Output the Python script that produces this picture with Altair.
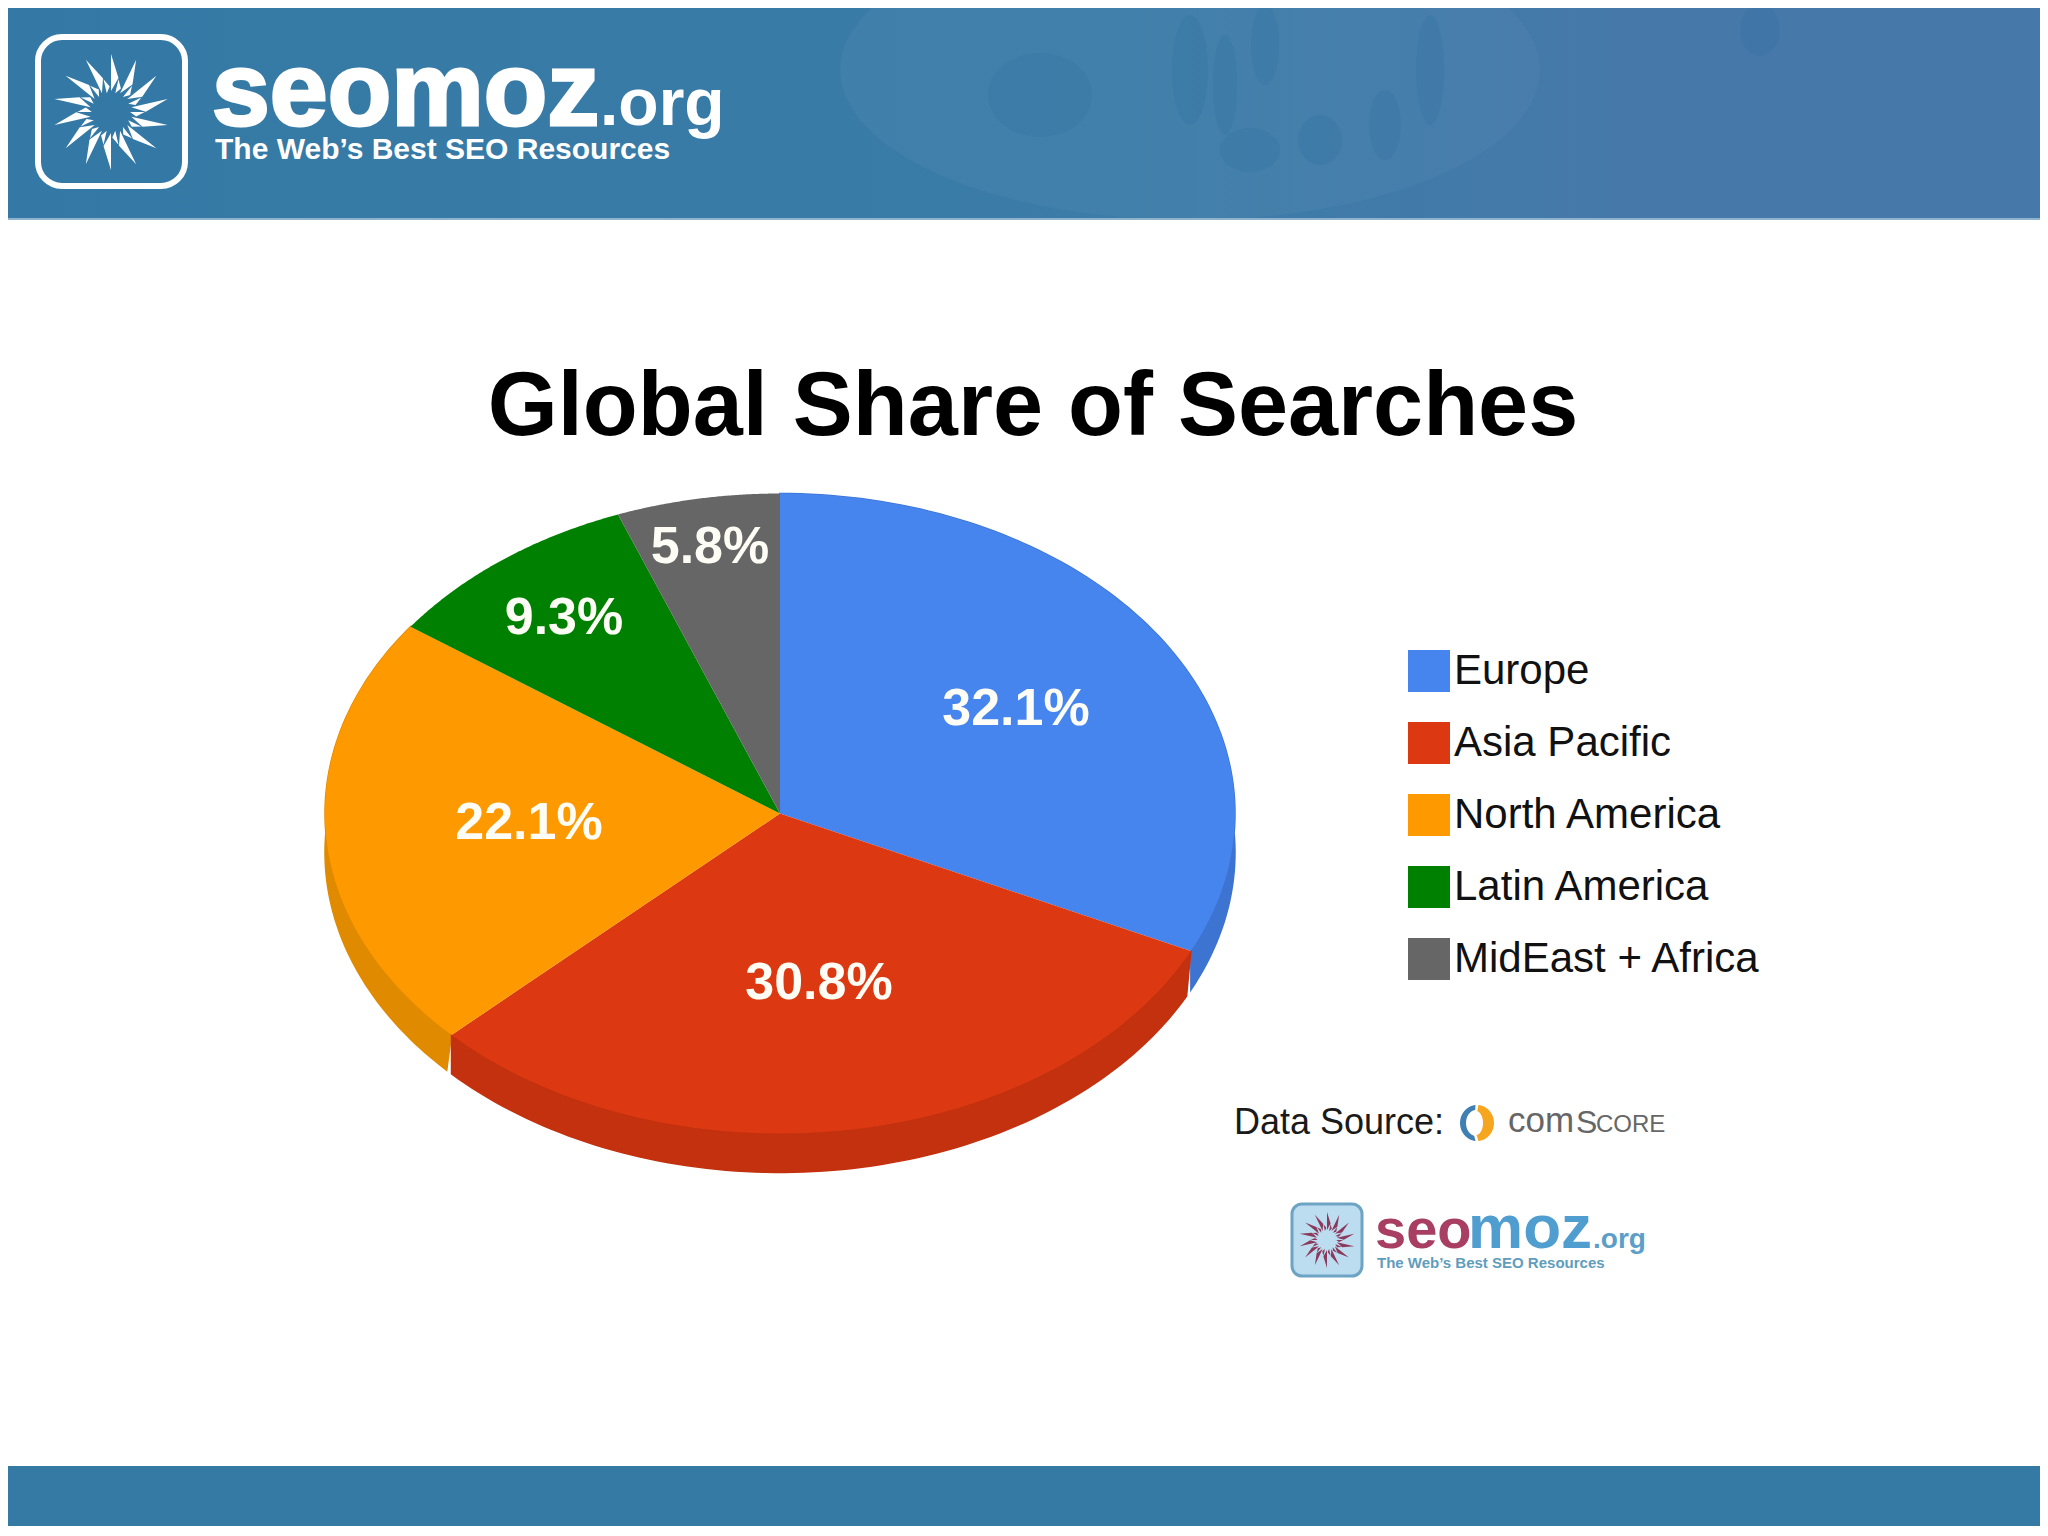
import math
import altair as alt

# ---- data ----
regions = ["Europe", "Asia Pacific", "North America", "Latin America", "MidEast + Africa"]
shares = [32.1, 30.8, 22.1, 9.3, 5.8]
share_labels = ["32.1%", "30.8%", "22.1%", "9.3%", "5.8%"]
face_colors = ["#4684ee", "#dc3912", "#ff9900", "#008000", "#666666"]
side_colors = ["#3d74d2", "#c3310f", "#e08a00", "#007000", "#5a5a5a"]
label_xy = [(1016, 707), (819, 981), (529, 821), (564, 616), (710, 545)]

CX, CY, RX, RY, DEPTH = 780, 813.5, 455, 320, 39
OFF = 8  # page margin


def feature(coords_list, **props):
    rings = [[[[float(x), float(y)] for x, y in ring]] for ring in coords_list]
    return {"type": "Feature", "properties": props,
            "geometry": {"type": "MultiPolygon", "coordinates": rings}}


def arc_pts(a0, a1, cx=CX, cy=CY, rx=RX, ry=RY, n=90):
    return [(cx + rx * math.sin(math.radians(a0 + (a1 - a0) * i / n)),
             cy - ry * math.cos(math.radians(a0 + (a1 - a0) * i / n))) for i in range(n + 1)]


def ellipse(cx, cy, rx, ry, top=-1e9, bottom=1e9):
    return [(x, min(max(y, top), bottom)) for x, y in arc_pts(0, 360, cx, cy, rx, ry, 72)]


def star(cx, cy, r, n=14):
    out = []
    pol = lambda rr, a: (cx + rr * math.sin(a), cy - rr * math.cos(a))
    d = math.radians(12.4)
    for k in range(n):
        t = 2 * math.pi * k / n
        out.append([pol(r, t), pol(r * 0.6, t + d), pol(r * 0.36, t), pol(r * 0.6, t - d)])
        m = t + math.pi / n
        out.append([pol(r * 0.58, m), pol(r * 0.44, m + d * 0.8), pol(r * 0.33, m), pol(r * 0.44, m - d * 0.8)])
    return out


projection = alt.Projection(type="identity", scale=1, translate=[-OFF, -OFF])


def shape(features, **mark):
    mark.setdefault("strokeWidth", 0)
    return alt.Chart(alt.Data(values=features)).mark_geoshape(**mark).project(**projection.to_dict())


def rect(x0, x1, y0, y1, **mark):
    return alt.Chart(alt.Data(values=[{}])).mark_rect(**mark).encode(
        x=alt.value(x0 - OFF), x2=alt.value(x1 - OFF), y=alt.value(y0 - OFF), y2=alt.value(y1 - OFF))


def text(s, x, y, size, color, font="Liberation Sans", weight="normal", align="left", **mark):
    return alt.Chart(alt.Data(values=[{}])).mark_text(
        text=s, font=font, fontSize=size, fontWeight=weight, color=color, align=align,
        baseline="alphabetic", **mark).encode(x=alt.value(x - OFF), y=alt.value(y - OFF))


layers = []

# header and footer bands
layers.append(rect(0, 2048, 0, 220, color=alt.LinearGradient(
    gradient="linear", x1=0, x2=1, y1=0, y2=0,
    stops=[alt.GradientStop(offset=0, color="#3479a5"),
           alt.GradientStop(offset=0.55, color="#3b7ca8"),
           alt.GradientStop(offset=0.8, color="#4679aa"),
           alt.GradientStop(offset=1, color="#4679aa")])))
layers.append(rect(0, 2048, 218, 220, color="#8fb3cc"))
layers.append(rect(0, 2048, 1466, 1536, color="#3579a5"))

# faint map texture of the header
layers.append(shape([feature([ellipse(1190, 70, 350, 150, 0, 218)])], fill="#ffffff", opacity=0.03))
layers.append(shape([feature([ellipse(1040, 95, 52, 42, 0, 218),
                              ellipse(1190, 70, 18, 55, 0, 218),
                              ellipse(1225, 85, 12, 50, 0, 218),
                              ellipse(1265, 45, 14, 40, 0, 218),
                              ellipse(1250, 150, 30, 22, 0, 218),
                              ellipse(1320, 140, 22, 25, 0, 218),
                              ellipse(1385, 125, 16, 35, 0, 218),
                              ellipse(1430, 70, 14, 55, 0, 218),
                              ellipse(1760, 30, 20, 26, 0, 218)])], fill="#2f6f9f", opacity=0.22))

# header logo
layers.append(rect(38, 185, 37, 186, fill="#3479a5", stroke="white", strokeWidth=6, cornerRadius=24))
layers.append(shape([feature(star(111, 112, 58))], fill="white"))
layers.append(text("seomoz", 212, 125, 104, "white", weight="bold", stroke="white", strokeWidth=3))
layers.append(text(".org", 600, 125, 66, "white", weight="bold"))
layers.append(text("The Web\u2019s Best SEO Resources", 215, 159, 30, "white", weight="bold"))

# title
layers.append(text("Global Share of Searches", 1033, 435, 90, "black", weight="bold", align="center"))

# pie: side walls first (each slightly overlapping the next), then top faces
total = sum(shares)
bounds = [0.0]
for v in shares:
    bounds.append(bounds[-1] + 360 * v / total)

for i in [0, 2, 1]:
    top = arc_pts(bounds[i], bounds[i + 1])
    wall = top + [(x, y + DEPTH) for x, y in reversed(top)]
    layers.append(shape([feature([wall])], fill=side_colors[i], stroke=side_colors[i], strokeWidth=1.5))

faces = [feature([[(CX, CY)] + arc_pts(bounds[i], bounds[i + 1]) + [(CX, CY)]], region=regions[i])
         for i in range(len(regions))]
layers.append(
    alt.Chart(alt.Data(values=faces)).mark_geoshape(strokeWidth=0).project(**projection.to_dict()).encode(
        color=alt.Color("properties.region:N",
                        scale=alt.Scale(domain=regions, range=face_colors),
                        legend=alt.Legend(orient="none", legendX=1408 - OFF - 2, legendY=650 - OFF - 2,
                                          title=None, symbolType="square", symbolSize=1764,
                                          symbolStrokeWidth=0, labelFont="Liberation Sans",
                                          labelFontSize=42, labelColor="#111111", labelOffset=4,
                                          rowPadding=30, padding=2, labelLimit=500)))
)

for s, (x, y) in zip(share_labels, label_xy):
    layers.append(text(s, x, y + 18, 52, "#fdfdf5", weight="bold", align="center"))

# data source line
layers.append(text("Data Source:", 1234, 1134, 36, "#1a1a1a"))
ring_o = arc_pts(5, 175, 1477, 1123, 17, 18, 30) + list(reversed(arc_pts(5, 175, 1476, 1123, 7, 12, 30)))
ring_b = arc_pts(185, 355, 1477, 1123, 17, 18, 30) + list(reversed(arc_pts(185, 355, 1476, 1123, 10, 13, 30)))
layers.append(shape([feature([ring_o])], fill="#f5a51e"))
layers.append(shape([feature([ring_b])], fill="#3f7fb2"))
layers.append(text("com", 1508, 1132, 35, "#666666"))
layers.append(text("S", 1576, 1133, 32, "#666666"))
layers.append(text("CORE", 1596, 1132, 24, "#666666"))

# lower logo
layers.append(rect(1292, 1362, 1204, 1276, fill="#bcdcf0", stroke="#6da4c4", strokeWidth=3, cornerRadius=10))
layers.append(shape([feature(star(1327, 1240, 28))], fill="#8c3a5c"))
layers.append(text("seo", 1375, 1248, 56, "#a83f63", weight="bold"))
layers.append(text("moz", 1468, 1248, 62, "#4f9ecf", weight="bold"))
layers.append(text(".org", 1593, 1248, 28, "#5b9fc8", weight="bold"))
layers.append(text("The Web\u2019s Best SEO Resources", 1377, 1268, 15, "#5f9dbd", weight="bold"))

chart = alt.layer(*layers).properties(
    width=2032, height=1518, padding=0, autosize=alt.AutoSizeParams(type="none"),
).configure_view(stroke=None)

chart.save("out.html", embed_options={"renderer": "svg", "actions": False})
